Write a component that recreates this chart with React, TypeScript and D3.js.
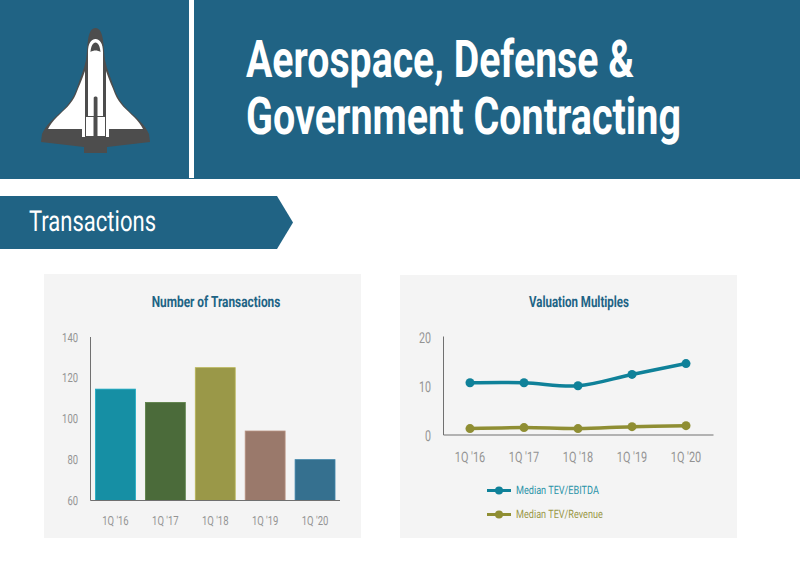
import * as d3 from "d3";

const W = 800;
const H = 566;
const NAVY = "#206384";
const GREY = "#939393";
const FONT = "Roboto";

const quarters = ["1Q '16", "1Q '17", "1Q '18", "1Q '19", "1Q '20"];
const transactions = [114.5, 108, 125, 94, 80];
const barColors = ["#168fa4", "#4b6b3a", "#9a9848", "#9a796b", "#35708f"];
const barTicks = [60, 80, 100, 120, 140];

const tevEbitda = [10.6, 10.6, 10.0, 12.3, 14.5];
const tevRevenue = [1.3, 1.5, 1.3, 1.7, 1.9];
const lineTicks = [0, 10, 20];

const ctx = document.createElement("canvas").getContext("2d")!;

// the source uses a narrow font that is not installed, so squeeze Roboto to the width it had
function FitText({ x, y, width, size, bold, fill, anchor = "start", children }: {
  x: number; y: number; width: number; size: number; bold?: boolean; fill: string;
  anchor?: "start" | "middle" | "end"; children: string;
}) {
  ctx.font = `${bold ? 700 : 400} ${size}px ${FONT}`;
  const sx = width / ctx.measureText(children).width;
  return (
    <text
      transform={`translate(${x},${y}) scale(${sx},1)`}
      textAnchor={anchor}
      fontSize={size}
      fontWeight={bold ? 700 : 400}
      fontFamily={FONT}
      fill={fill}
      textRendering="geometricPrecision"
    >
      {children}
    </text>
  );
}

function Shuttle() {
  return (
    <g>
      <path
        fill="#4d4d4d"
        d="M95.5,28 C91,28 89,33 88,40 C87,47 87,54 86,60 C84,70 80,78 77,88 C74,97 69,104 62,111 C54,118 46,125 42,134 L41,142 L84,147 L84,153 L107,153 L107,147 L150,142 L149,134 C145,125 137,118 129,111 C122,104 117,97 114,88 C111,78 107,70 105,60 C104,54 104,47 103,40 C102,33 100,28 95.5,28 Z"
      />
      <path fill="#fff" d="M85,71 C82,80 79,86 76,94 C72,104 64,110 57,117 C53,121 50,125 48,129 L82,129 L82,137 L85,137 L85,116 Z" />
      <path fill="#fff" d="M106,71 C109,80 112,86 115,94 C119,104 127,110 134,117 C138,121 141,125 143,129 L109,129 L109,137 L106,137 L106,116 Z" />
      <path fill="#fff" d="M88,116 L88,52 C88,44 91,39 95.5,39 C100,39 103,44 103,52 L103,116 L97.5,116 L97.5,98 C97.5,96 93.7,96 93.7,98 L93.7,116 Z" />
      <rect x={86} y={117} width={7.5} height={19} fill="#fff" />
      <rect x={97.5} y={117} width={7.5} height={19} fill="#fff" />
      <path fill="#4d4d4d" d="M90.5,52 C91,46 93,42.5 95.5,42.5 C98,42.5 100,46 100.5,52 C97.5,50 93.5,50 90.5,52 Z" />
    </g>
  );
}

function BarPanel() {
  const x = d3.scaleBand<string>().domain(quarters).range([90.5, 340]).paddingInner(0.2).paddingOuter(0.1);
  const y = d3.scaleLinear().domain([60, 140]).range([500.5, 337]);
  return (
    <g>
      <rect x={44} y={274} width={317} height={264} fill="#f4f4f4" />
      <FitText x={216} y={306.5} width={129} size={15.5} bold anchor="middle" fill={NAVY}>
        Number of Transactions
      </FitText>
      {quarters.map((q, i) => (
        <rect
          key={q}
          x={x(q)}
          y={y(transactions[i])}
          width={x.bandwidth()}
          height={y(60) - y(transactions[i])}
          fill={barColors[i]}
          stroke={d3.color(barColors[i])!.brighter(0.5).formatHex()}
          strokeWidth={0.8}
        />
      ))}
      <path d={`M90.5,${y(140)}V${y(60)}H340`} fill="none" stroke="#707070" strokeWidth={1} />
      {barTicks.map((t) => (
        <FitText key={t} x={78} y={y(t) + 4.5} width={String(t).length * 5.3} size={12.5} anchor="end" fill={GREY}>
          {String(t)}
        </FitText>
      ))}
      {quarters.map((q) => (
        <FitText key={q} x={x(q)! + x.bandwidth() / 2} y={525} width={26.5} size={12.5} anchor="middle" fill={GREY}>
          {q}
        </FitText>
      ))}
    </g>
  );
}

function LinePanel() {
  const x = d3.scalePoint<string>().domain(quarters).range([470, 686]);
  const y = d3.scaleLinear().domain([0, 20]).range([435, 336.5]);
  const line = d3
    .line<number>()
    .x((_, i) => x(quarters[i])!)
    .y((d) => y(d))
    .curve(d3.curveCatmullRom.alpha(0.5));
  const series = [
    { name: "Median TEV/EBITDA", values: tevEbitda, color: "#0f8199", text: "#2a93a8", legendY: 490.5, textWidth: 83 },
    { name: "Median TEV/Revenue", values: tevRevenue, color: "#8f8e33", text: "#9a9848", legendY: 514.5, textWidth: 87 },
  ];
  return (
    <g>
      <rect x={400} y={275} width={337} height={263} fill="#f4f4f4" />
      <FitText x={579} y={306.5} width={100} size={15.5} bold anchor="middle" fill={NAVY}>
        Valuation Multiples
      </FitText>
      <path d={`M443.5,${y(20)}V${y(0)}H713.5`} fill="none" stroke="#707070" strokeWidth={1} />
      {lineTicks.map((t) => (
        <FitText key={t} x={431} y={y(t) + 6} width={String(t).length * 6} size={15} anchor="end" fill={GREY}>
          {String(t)}
        </FitText>
      ))}
      {quarters.map((q) => (
        <FitText key={q} x={x(q)!} y={461.5} width={30.5} size={14.5} anchor="middle" fill={GREY}>
          {q}
        </FitText>
      ))}
      {series.map((s) => (
        <g key={s.name}>
          <path d={line(s.values)!} fill="none" stroke={s.color} strokeWidth={3.5} />
          {s.values.map((v, i) => (
            <circle key={i} cx={x(quarters[i])} cy={y(v)} r={4.5} fill={s.color} />
          ))}
          <line x1={487} x2={511} y1={s.legendY} y2={s.legendY} stroke={s.color} strokeWidth={3} />
          <circle cx={499} cy={s.legendY} r={4} fill={s.color} />
          <FitText x={516} y={s.legendY + 3.5} width={s.textWidth} size={11.5} fill={s.text}>
            {s.name}
          </FitText>
        </g>
      ))}
    </g>
  );
}

export default function App() {
  return (
    <svg
      width={W}
      height={H}
      viewBox={`0 0 ${W} ${H}`}
      style={{ position: "fixed", left: 0, top: 0, display: "block", background: "#fff" }}
    >
      <rect x={0} y={0} width={W} height={179} fill={NAVY} />
      <rect x={189} y={0} width={5} height={178} fill="#fff" />
      <Shuttle />
      <FitText x={246} y={77} width={388} size={52} bold fill="#fff">
        Aerospace, Defense &amp;
      </FitText>
      <FitText x={246} y={134} width={435} size={52} bold fill="#fff">
        Government Contracting
      </FitText>
      <path d="M0,196H277L293,222.5L277,249H0Z" fill={NAVY} />
      <FitText x={29} y={230.5} width={127} size={29} fill="#fff">
        Transactions
      </FitText>
      <BarPanel />
      <LinePanel />
    </svg>
  );
}
